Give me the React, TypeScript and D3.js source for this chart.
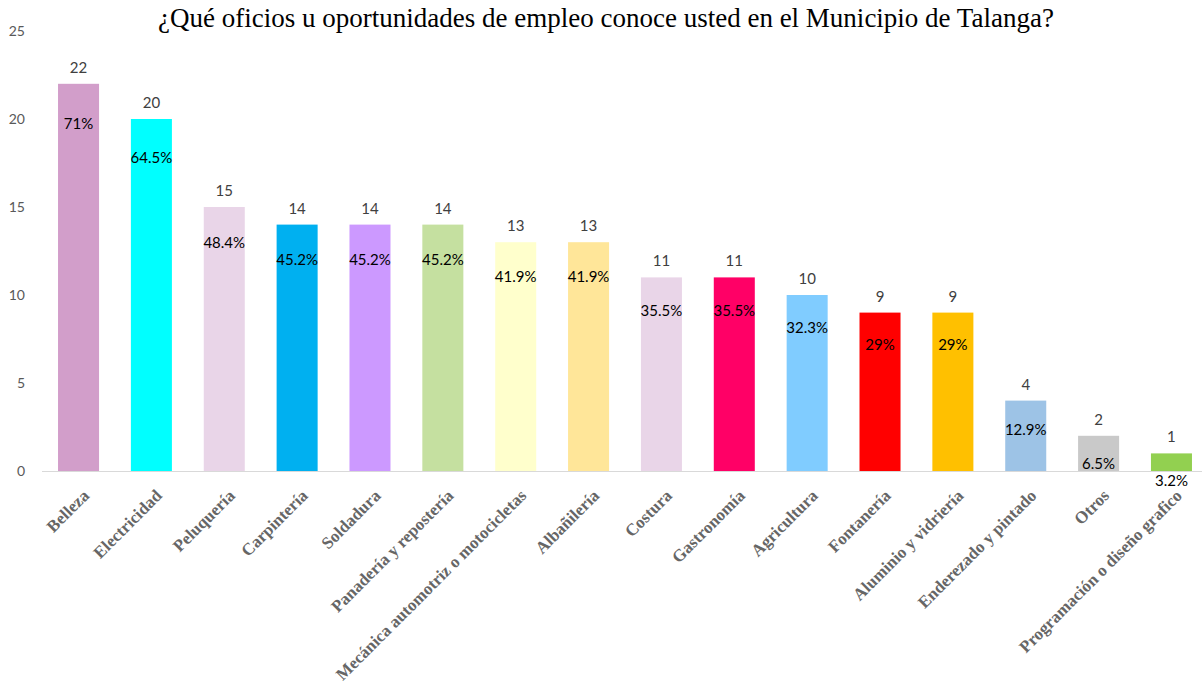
import { useEffect } from 'react';
import * as d3 from 'd3';

const title = '¿Qué oficios u oportunidades de empleo conoce usted en el Municipio de Talanga?';

const categories = [
  'Belleza', 'Electricidad', 'Peluquería', 'Carpintería', 'Soldadura',
  'Panadería y repostería', 'Mecánica automotriz o motocicletas', 'Albañilería',
  'Costura', 'Gastronomía', 'Agricultura', 'Fontanería', 'Aluminio y vidriería',
  'Enderezado y pintado', 'Otros', 'Programación o diseño grafico',
];
const counts = [22, 20, 15, 14, 14, 14, 13, 13, 11, 11, 10, 9, 9, 4, 2, 1];
const percents = [71, 64.5, 48.4, 45.2, 45.2, 45.2, 41.9, 41.9, 35.5, 35.5, 32.3, 29, 29, 12.9, 6.5, 3.2];
const barColors = [
  '#D29ECA', '#00FFFF', '#E9D5E8', '#00B0F0', '#CC99FF', '#C5E0A0', '#FFFFCC', '#FFE699',
  '#E9D5E8', '#FF0066', '#80CCFF', '#FF0000', '#FFC000', '#9DC3E6', '#C9C9C9', '#92D050',
];
const yTicks = [0, 5, 10, 15, 20, 25];

const W = 1202;
const H = 692;

export default function App() {
  useEffect(() => {
    document.body.style.margin = '0';
  }, []);

  const x = d3.scaleBand<string>()
    .domain(categories)
    .range([42, 1208])
    .paddingInner(0.437)
    .paddingOuter(0.22);

  const y = d3.scaleLinear().domain([0, 25]).range([471, 31]);

  // percent labels sit on their own (secondary) scale, like in the source sheet
  const yPct = d3.scaleLinear().domain([0, 100]).range([498, -29]);

  const bw = x.bandwidth();

  return (
    <svg width={W} height={H} style={{ display: 'block', background: '#fff' }}>
      <text x={606} y={27} textAnchor="middle" fontFamily="'Liberation Serif', serif" fontSize={27} fill="#000">
        {title}
      </text>

      {/* y axis labels */}
      {yTicks.map(t => (
        <text key={t} x={25} y={y(t) + 5} textAnchor="end" fontFamily="Lato, 'Open Sans', sans-serif" fontSize={14} fill="#595959">
          {t}
        </text>
      ))}

      {/* bars */}
      {categories.map((c, i) => (
        <rect key={c} x={x(c)} y={y(counts[i])} width={bw} height={y(0) - y(counts[i])} fill={barColors[i]} />
      ))}

      {/* baseline */}
      <line x1={42} x2={W} y1={y(0) + 0.5} y2={y(0) + 0.5} stroke="#D9D9D9" strokeWidth={1} />

      {/* count labels */}
      {categories.map((c, i) => (
        <text key={'n' + c} x={(x(c) ?? 0) + bw / 2} y={y(counts[i]) - 11} textAnchor="middle"
          fontFamily="Lato, 'Open Sans', sans-serif" fontSize={15} fill="#404040">
          {counts[i]}
        </text>
      ))}

      {/* percent labels */}
      {categories.map((c, i) => (
        <text key={'p' + c} x={(x(c) ?? 0) + bw / 2} y={yPct(percents[i]) + 5} textAnchor="middle"
          fontFamily="Lato, 'Open Sans', sans-serif" fontSize={15} fill="#000">
          {percents[i] + '%'}
        </text>
      ))}

      {/* category labels */}
      {categories.map(c => {
        const cx = (x(c) ?? 0) + bw / 2 + 3;
        return (
          <text key={'c' + c} transform={`translate(${cx},${y(0) + 17}) rotate(-45)`} textAnchor="end" dy="0.72em"
            fontFamily="'Liberation Serif', serif" fontWeight="bold" fontSize={17} fill="#666">
            {c}
          </text>
        );
      })}
    </svg>
  );
}
